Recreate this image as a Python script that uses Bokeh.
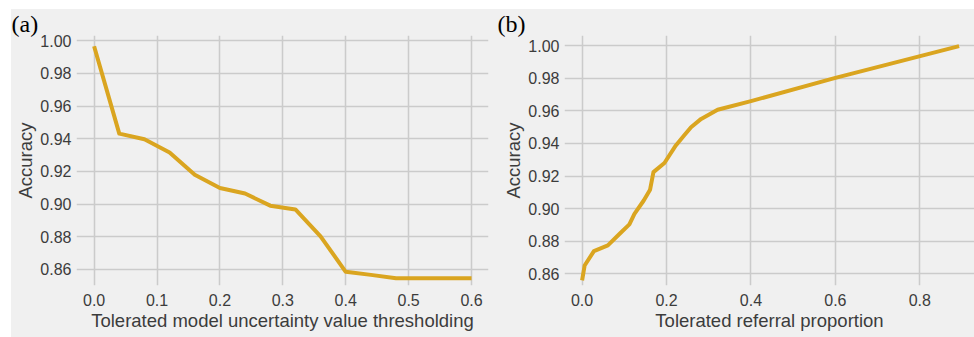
from bokeh.plotting import figure
from bokeh.layouts import row
from bokeh.models import Range1d, FixedTicker, NumeralTickFormatter
from bokeh.embed import file_html
from bokeh.resources import INLINE

# Panel (a): accuracy vs tolerated model uncertainty value threshold
a_x = [0.0, 0.04, 0.08, 0.12, 0.16, 0.20, 0.24, 0.28, 0.32, 0.36, 0.40, 0.44, 0.48, 0.52, 0.56, 0.60]
a_y = [0.9966, 0.9431, 0.9397, 0.9316, 0.9179, 0.9098, 0.9064, 0.8990, 0.8967, 0.8802,
       0.8585, 0.8566, 0.8545, 0.8545, 0.8545, 0.8545]

# Panel (b): accuracy vs tolerated referral proportion
b_x = [0.0, 0.006, 0.028, 0.061, 0.089, 0.112, 0.124, 0.146, 0.161, 0.169, 0.195, 0.222,
       0.242, 0.258, 0.282, 0.321, 0.40, 0.60, 0.893]
b_y = [0.8559, 0.8651, 0.8739, 0.8774, 0.8846, 0.8903, 0.8968, 0.9050, 0.9116, 0.9224, 0.9280,
       0.9388, 0.9450, 0.9500, 0.9551, 0.9607, 0.9660, 0.9803, 0.9998]

a_xticks = [0.0, 0.1, 0.2, 0.3, 0.4, 0.5, 0.6]
b_xticks = [0.0, 0.2, 0.4, 0.6, 0.8]
y_ticks = [0.86, 0.88, 0.90, 0.92, 0.94, 0.96, 0.98, 1.00]

BG = "#f0f0f0"
LINE = "#DAA520"
GRID = "#cbcbcb"
TXT = "#3c3c3c"
FONT = "Liberation Sans"


def make_panel(xs, ys, xticks, xlabel, tag, width, height, xr, yr, borders, tag_offset):
    left, right, top, bottom = borders
    p = figure(width=width, height=height, output_backend="svg", toolbar_location=None,
               x_range=Range1d(*xr), y_range=Range1d(*yr),
               min_border_left=left, min_border_right=right,
               min_border_top=top, min_border_bottom=bottom, title=tag)
    p.background_fill_color = BG
    p.border_fill_color = BG
    p.outline_line_color = None
    p.title.text_font = "Liberation Serif"
    p.title.text_font_size = "24px"
    p.title.text_font_style = "normal"
    p.title.text_color = "black"
    p.title.align = "left"
    p.title.offset = tag_offset
    p.title.standoff = -3
    p.line(xs, ys, line_color=LINE, line_width=4, line_join="round")
    for ax in (p.xaxis[0], p.yaxis[0]):
        ax.axis_line_color = None
        ax.major_tick_line_color = None
        ax.minor_tick_line_color = None
        ax.major_tick_out = 0
        ax.major_tick_in = 0
        ax.major_label_text_font = FONT
        ax.major_label_text_font_size = "16px"
        ax.major_label_text_color = TXT
        ax.axis_label_text_font = FONT
        ax.axis_label_text_font_size = "18.5px"
        ax.axis_label_text_font_style = "normal"
        ax.axis_label_text_color = TXT
    p.xaxis.ticker = FixedTicker(ticks=xticks)
    p.yaxis.ticker = FixedTicker(ticks=y_ticks)
    p.xaxis.formatter = NumeralTickFormatter(format="0.0")
    p.yaxis.formatter = NumeralTickFormatter(format="0.00")
    p.xaxis.axis_label = xlabel
    p.yaxis.axis_label = "Accuracy"
    p.xaxis.major_label_standoff = 8
    p.yaxis.major_label_standoff = 5
    p.xaxis.axis_label_standoff = 1
    p.yaxis.axis_label_standoff = 1
    for g in (p.xgrid[0], p.ygrid[0]):
        g.grid_line_color = GRID
        g.grid_line_width = 1.5
    return p


pa = make_panel(a_x, a_y, a_xticks, "Tolerated model uncertainty value thresholding", "(a)",
                479, 328, (-0.028, 0.627), (0.8501, 1.0032), (65, 2, 26, 49), -65)
pb = make_panel(b_x, b_y, b_xticks, "Tolerated referral proportion", "(b)",
                484, 328, (-0.0417, 0.9295), (0.8528, 1.0063), (74, 0, 26, 52), -67)

layout = row(pa, pb, spacing=0, margin=(9, 0, 0, 11), styles={"background-color": BG})
open("out.html", "w").write(file_html(layout, INLINE))
